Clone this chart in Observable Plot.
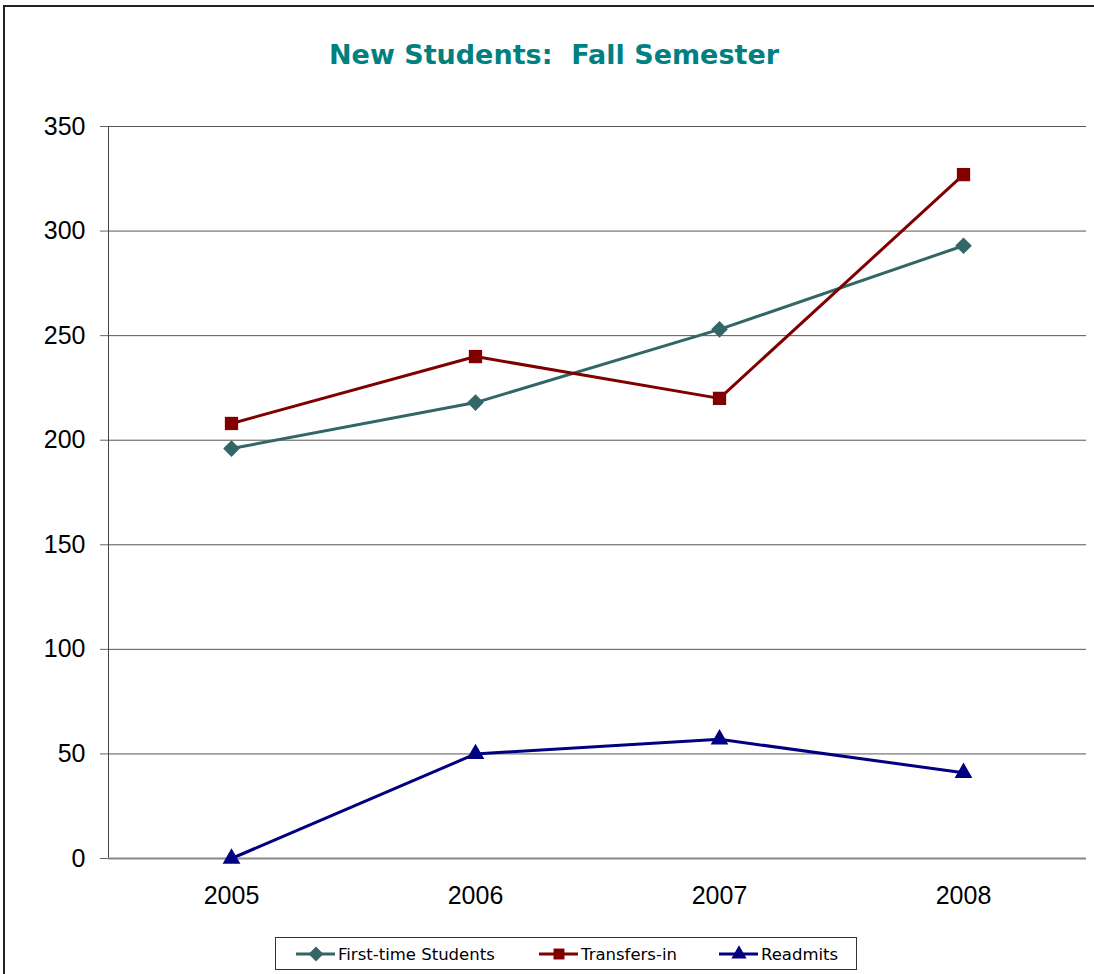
<!DOCTYPE html>
<html>
<head>
<meta charset="utf-8">
<script src="https://cdn.jsdelivr.net/npm/d3@7"></script>
<script src="https://cdn.jsdelivr.net/npm/@observablehq/plot@0.6"></script>
<style>
  html, body { margin: 0; padding: 0; background: #fff; overflow: hidden; }
  body { width: 1094px; height: 974px; position: relative; }
  #frame { position: absolute; left: 3px; top: 5px; width: 1300px; height: 1300px; border: 2px solid #222; box-sizing: border-box; }
  #title { position: absolute; left: 0; width: 1108px; top: 39px; text-align: center; font-family: "DejaVu Sans", Verdana, sans-serif; font-weight: bold; font-size: 27px; color: #008080; }
  #chart { position: absolute; left: 0; top: 0; }
  #legend { position: absolute; left: 275px; top: 937px; width: 582px; height: 33px; box-sizing: border-box; border: 1px solid #333; background: #fff;
            font-family: "DejaVu Sans", Verdana, sans-serif; font-size: 16.5px; color: #000; }
  .item { display: flex; align-items: center; position: absolute; top: 5px; }
  .item svg { margin-right: 1px; }
</style>
</head>
<body>
<div id="frame"></div>
<div id="title">New Students:&nbsp; Fall Semester</div>
<div id="chart"></div>
<div id="legend"></div>
<script>
const years = ["2005", "2006", "2007", "2008"];
const seriesNames = ["First-time Students", "Transfers-in", "Readmits"];
const firstTime = [196, 218, 253, 293];
const transfers = [208, 240, 220, 327];
const readmits = [0, 50, 57, 41];
const yTicks = [0, 50, 100, 150, 200, 250, 300, 350];

const colors = ["#336666", "#800000", "#000080"];
const symbols = ["diamond2", "square", "triangle"];
const markerR = [7.5, 7.5, 6.6];

const seriesValues = [firstTime, transfers, readmits];
const data = [];
seriesNames.forEach((name, i) => {
  years.forEach((yr, j) => data.push({series: name, year: yr, value: seriesValues[i][j]}));
});

const plot = Plot.plot({
  width: 1094,
  height: 930,
  marginLeft: 108,
  marginRight: 8,
  marginTop: 126,
  marginBottom: 72,
  style: {fontFamily: "'Liberation Sans', Arial, sans-serif", fontSize: "25px", color: "#000", background: "transparent"},
  x: {type: "point", domain: years, padding: 0.5, label: null},
  y: {domain: [0, 350], label: null},
  color: {domain: seriesNames, range: colors},
  symbol: {domain: seriesNames, range: symbols},
  r: {type: "identity"},
  marks: [
    Plot.gridY(yTicks.filter(d => d > 0), {stroke: "#555", strokeOpacity: 1, strokeWidth: 1}),
    Plot.frame({anchor: "left", stroke: "#444", strokeWidth: 1}),
    Plot.ruleY([0], {stroke: "#888", strokeWidth: 2}),
    Plot.axisY({ticks: yTicks, tickSize: 8, tickPadding: 15, stroke: "#666", fill: "#000", tickFormat: d => String(d)}),
    Plot.axisX({tickSize: 0, tickPadding: 28, fill: "#000"}),
    Plot.line(data, {x: "year", y: "value", z: "series", stroke: "series", strokeWidth: 3}),
    Plot.dot(data, {x: "year", y: "value", fill: "series", symbol: "series",
                    r: d => markerR[seriesNames.indexOf(d.series)], stroke: "none"})
  ]
});
document.getElementById("chart").appendChild(plot);

// legend
const legend = document.getElementById("legend");
const itemX = [19, 262, 442];
seriesNames.forEach((name, i) => {
  const div = document.createElement("div");
  div.className = "item";
  div.style.left = itemX[i] + "px";
  const svg = d3.create("svg").attr("width", 42).attr("height", 22);
  svg.append("line").attr("x1", 1).attr("x2", 40).attr("y1", 11).attr("y2", 11)
     .attr("stroke", colors[i]).attr("stroke-width", 3);
  const sym = [d3.symbolDiamond2, d3.symbolSquare, d3.symbolTriangle][i];
  svg.append("path").attr("transform", "translate(21,11)")
     .attr("d", d3.symbol(sym, [140, 120, 100][i])()).attr("fill", colors[i]);
  div.appendChild(svg.node());
  const span = document.createElement("span");
  span.textContent = name;
  div.appendChild(span);
  legend.appendChild(div);
});
</script>
</body>
</html>
